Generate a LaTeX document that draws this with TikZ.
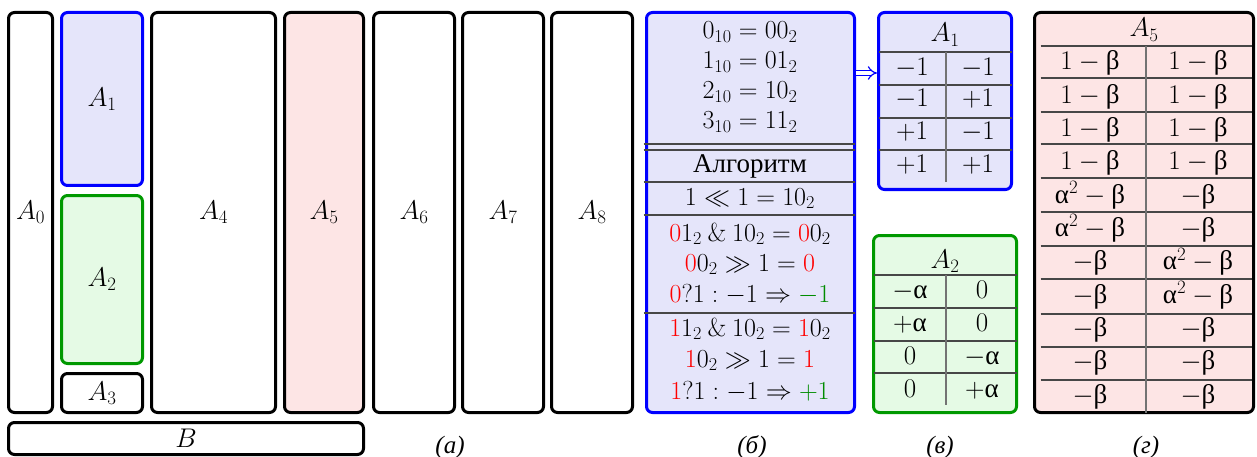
\RequirePackage{fix-cm}
\documentclass[tikz,border=0pt]{standalone}
\usepackage[no-math]{fontspec}
\newfontfamily\cyr{Liberation Serif}
\usetikzlibrary{arrows.meta}
\definecolor{bfill}{RGB}{229,229,250}
\definecolor{gfill}{RGB}{229,250,229}
\definecolor{rfill}{RGB}{253,229,229}
\definecolor{gline}{RGB}{0,153,0}
\definecolor{gtxt}{RGB}{0,140,0}
\newcommand{\al}{\mbox{\cyr α}}
\newcommand{\be}{\mbox{\cyr β}}
\begin{document}
\begin{tikzpicture}[x=1pt,y=-1pt,
  every node/.style={font=\fontsize{27}{32}\selectfont, inner sep=0pt, outer sep=0pt},
  box/.style={draw, line width=3pt, rounded corners=6pt},
  bluebox/.style={box, draw=blue, fill=bfill},
  greenbox/.style={box, draw=gline, fill=gfill},
  redbox/.style={box, fill=rfill},
  rule/.style={draw=black!72, line width=1.4pt},
  vrule/.style={draw=black!55, line width=1.4pt},
  cell/.style={anchor=base},
  bcell/.style={anchor=base, font=\fontsize{26}{30}\selectfont},
  captext/.style={anchor=base, font=\fontsize{25}{30}\selectfont\cyr\itshape},
  arr/.style={draw=blue, double=white, double distance=3.5pt, line width=1.2pt, -{Implies}}]
\useasboundingbox (0,0) rectangle (1257,457);

% ---------- panel (a) ----------
\node[box, minimum width=44pt, minimum height=400pt] (A0) at (30.5,212.5) {$A_0$};
\node[bluebox, minimum width=81pt, minimum height=173pt] (A1) at (102,99) {$A_1$};
\node[greenbox, minimum width=81pt, minimum height=168pt] (A2) at (102,279.5) {$A_2$};
\node[box, minimum width=81pt, minimum height=39pt] (A3) at (102,393) {$A_3$};
\node[box, minimum width=124pt, minimum height=400pt] (A4) at (213.5,212.5) {$A_4$};
\node[redbox, minimum width=79pt, minimum height=400pt] (A5) at (324,212.5) {$A_5$};
\node[box, minimum width=81pt, minimum height=400pt] (A6) at (414,212.5) {$A_6$};
\node[box, minimum width=81pt, minimum height=400pt] (A7) at (503,212.5) {$A_7$};
\node[box, minimum width=81pt, minimum height=400pt] (A8) at (592,212.5) {$A_8$};
\node[box, minimum width=355pt, minimum height=32pt] (B) at (186,438.5) {$B$};
\node[captext] (capa) at (450,453) {(а)};

% ---------- panel (b) ----------
\node[bluebox, minimum width=208pt, minimum height=400pt] (bb) at (750.5,212.5) {};
\node[bcell] (b1) at (750,39) {$0_{10} = 00_2$};
\node[bcell] (b2) at (750,69) {$1_{10} = 01_2$};
\node[bcell] (b3) at (750,99) {$2_{10} = 10_2$};
\node[bcell] (b4) at (750,129) {$3_{10} = 11_2$};
\draw[rule] ([xshift=-3pt]bb.west |- 0,144) -- (bb.east |- 0,144);
\draw[rule] ([xshift=-3pt]bb.west |- 0,150) -- (bb.east |- 0,150);
\node[bcell, font=\fontsize{27}{32}\selectfont\cyr] (b5) at (750,172) {Алгоритм};
\draw[rule] ([xshift=-3pt]bb.west |- 0,182) -- (bb.east |- 0,182);
\node[bcell] (b6) at (750,205) {$1 \ll 1 = 10_2$};
\draw[rule] ([xshift=-3pt]bb.west |- 0,215) -- (bb.east |- 0,215);
\node[bcell] (b7) at (750,241) {${\color{red}0}1_2 \mathbin{\&} 10_2 = {\color{red}0}0_2$};
\node[bcell] (b8) at (750,271) {${\color{red}0}0_2 \gg 1 = {\color{red}0}$};
\node[bcell] (b9) at (750,302) {${\color{red}0}?1 : -1 \Rightarrow {\color{gtxt}-1}$};
\draw[rule] ([xshift=-3pt]bb.west |- 0,313) -- (bb.east |- 0,313);
\node[bcell] (b10) at (750,336) {${\color{red}1}1_2 \mathbin{\&} 10_2 = {\color{red}1}0_2$};
\node[bcell] (b11) at (750,367) {${\color{red}1}0_2 \gg 1 = {\color{red}1}$};
\node[bcell] (b12) at (750,399) {${\color{red}1}?1 : -1 \Rightarrow {\color{gtxt}+1}$};
\node[captext] (capb) at (752,453) {(б)};

% ---------- panel (c) ----------
\node[bluebox, minimum width=133pt, minimum height=177pt] (T1) at (945,101) {};
\draw[arr] ([xshift=1.5pt]bb.east |- 0,73) -- ([xshift=-1.5pt]T1.west |- 0,73);
\node[cell] (T1h) at (945,42) {$A_1$};
\foreach \y in {52,85,118,150} \draw[rule] (T1.west |- 0,\y) -- (T1.east |- 0,\y);
\draw[vrule] (946,52) -- (946,182);
\foreach \l/\r/\y [count=\i] in {-1/-1/76, -1/+1/107, +1/-1/140, +1/+1/173} {
  \node[cell] (T1l\i) at (912,\y) {$\l$};
  \node[cell] (T1r\i) at (978,\y) {$\r$};
}
\node[greenbox, minimum width=143pt, minimum height=177pt] (T2) at (945,324) {};
\node[cell] (T2h) at (945,268) {$A_2$};
\foreach \y in {275,308,341,373} \draw[rule] (T2.west |- 0,\y) -- (T2.east |- 0,\y);
\draw[vrule] (946,275) -- (946,405);
\foreach \l/\r/\y [count=\i] in {-\al/0/298, +\al/0/331, 0/-\al/364, 0/+\al/397} {
  \node[cell] (T2l\i) at (910,\y) {$\l$};
  \node[cell] (T2r\i) at (982,\y) {$\r$};
}
\node[captext] (capc) at (940,453) {(в)};

% ---------- panel (d) ----------
\node[redbox, minimum width=219pt, minimum height=400pt] (T5) at (1144,212.5) {};
\node[cell] (T5h) at (1144,37) {$A_5$};
\foreach \y in {46,78,112,144,178,212,246,279,314,347,380}
  \draw[rule] ([xshift=6pt]T5.west |- 0,\y) -- ([xshift=-2pt]T5.east |- 0,\y);
\draw[vrule] (1146,46) -- (T5.south -| 1146,0);
\foreach \l/\r [count=\i] in {1-\be/1-\be, 1-\be/1-\be, 1-\be/1-\be, 1-\be/1-\be,
  \al^2-\be/-\be, \al^2-\be/-\be, -\be/\al^2-\be, -\be/\al^2-\be, -\be/-\be, -\be/-\be, -\be/-\be} {
  \node[cell] (T5l\i) at (1090,{70+33.3*(\i-1)}) {$\l$};
  \node[cell] (T5r\i) at (1198,{70+33.3*(\i-1)}) {$\r$};
}
\node[captext] (capd) at (1146,453) {(г)};
\end{tikzpicture}
\end{document}
